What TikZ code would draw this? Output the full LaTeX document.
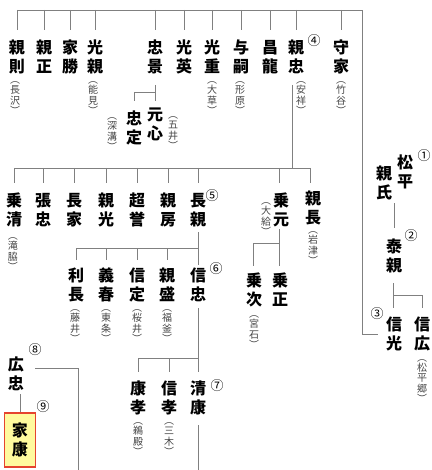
\documentclass[tikz,border=0pt]{standalone}
\usepackage{fontspec}
\newfontfamily\jp{Noto Sans CJK JP}
\definecolor{linegray}{HTML}{808080}
\definecolor{subgray}{HTML}{454545}
\definecolor{boxfill}{HTML}{FFFA9E}
\definecolor{boxline}{HTML}{E5442E}
\tikzset{
  nm/.style={font=\jp\bfseries\fontsize{16}{19}\selectfont, align=center, inner sep=0pt},
  sb/.style={font=\jp\fontsize{10}{10.2}\selectfont, align=center, inner sep=0pt, text=subgray},
  num/.style={font=\jp\fontsize{13}{13}\selectfont, inner sep=0pt},
  ln/.style={draw=linegray, line width=0.9pt},
}
\begin{document}
\begin{tikzpicture}[x=1pt,y=-1pt]
\useasboundingbox (0,0) rectangle (431,470);
% ---------- row 1 ----------
\node[nm] (a1) at (17,57) {親\\則};
\node[nm] (a2) at (44,57) {親\\正};
\node[nm] (a3) at (70,57) {家\\勝};
\node[nm] (a4) at (95,57) {光\\親};
\node[nm] (a5) at (155,57) {忠\\景};
\node[nm] (a6) at (184,57) {光\\英};
\node[nm] (a7) at (212,57) {光\\重};
\node[nm] (a8) at (241,57) {与\\嗣};
\node[nm] (a9) at (270,57) {昌\\龍};
\node[nm] (a10) at (296,57) {親\\忠};
\node[nm] (a11) at (341,57) {守\\家};
\node[sb] (sa1) at (15,98) {︵\\長\\沢\\︶};
\node[sb] (sa4) at (93,98) {︵\\能\\見\\︶};
\node[sb] (sa7) at (212,98) {︵\\大\\草\\︶};
\node[sb] (sa8) at (240,98) {︵\\形\\原\\︶};
\node[sb] (sa10) at (301,98) {︵\\安\\祥\\︶};
\node[sb] (sa11) at (341,98) {︵\\竹\\谷\\︶};
\node[num] (c4) at (314,41) {④};
% sons of 忠景
\node[nm] (b1) at (134,128) {忠\\定};
\node[nm] (b2) at (155,124) {元\\心};
\node[sb] (sb1) at (112,134) {︵\\深\\溝\\︶};
\node[sb] (sb2) at (173,133) {︵\\五\\井\\︶};
% ---------- row 2 ----------
\node[nm] (d1) at (14,210) {乗\\清};
\node[nm] (d2) at (43,210) {張\\忠};
\node[nm] (d3) at (74,210) {長\\家};
\node[nm] (d4) at (106,210) {親\\光};
\node[nm] (d5) at (137,210) {超\\誉};
\node[nm] (d6) at (168,210) {親\\房};
\node[nm] (d7) at (198,210) {長\\親};
\node[nm] (d8) at (281,210) {乗\\元};
\node[nm] (d9) at (313,208) {親\\長};
\node[sb] (sd1) at (13,254) {︵\\滝\\脇\\︶};
\node[sb] (sd8) at (266,219) {︵\\大\\給\\︶};
\node[sb] (sd9) at (313,248) {︵\\岩\\津\\︶};
\node[num] (c5) at (212,196) {⑤};
% sons of 乗元
\node[nm] (e1) at (254,290) {乗\\次};
\node[nm] (e2) at (280,290) {乗\\正};
\node[sb] (se1) at (254,332) {︵\\宮\\石\\︶};
% ---------- row 3 ----------
\node[nm] (f1) at (76,285) {利\\長};
\node[nm] (f2) at (106,285) {義\\春};
\node[nm] (f3) at (137,285) {信\\定};
\node[nm] (f4) at (167,285) {親\\盛};
\node[nm] (f5) at (198,285) {信\\忠};
\node[sb] (sf1) at (75,326) {︵\\藤\\井\\︶};
\node[sb] (sf2) at (106,326) {︵\\東\\条\\︶};
\node[sb] (sf3) at (137,326) {︵\\桜\\井\\︶};
\node[sb] (sf4) at (167,326) {︵\\福\\釜\\︶};
\node[num] (c6) at (216,269) {⑥};
% ---------- row 4 ----------
\node[nm] (g1) at (138,398) {康\\孝};
\node[nm] (g2) at (169,398) {信\\孝};
\node[nm] (g3) at (198,398) {清\\康};
\node[sb] (sg1) at (138,439) {︵\\鵜\\殿\\︶};
\node[sb] (sg2) at (169,439) {︵\\三\\木\\︶};
\node[num] (c7) at (217,386) {⑦};
% 広忠, 家康
\node[nm] (h1) at (16,374) {広\\忠};
\node[num] (c8) at (35,350) {⑧};
\node[nm, draw=boxline, line width=1.3pt, fill=boxfill, minimum width=31pt, minimum height=54pt] (h2) at (20,440) {家\\康};
\node[num] (c9) at (43,407) {⑨};
% ---------- right column ----------
\node[nm] (r1a) at (405,172) {松\\平};
\node[nm] (r1b) at (384,183) {親\\氏};
\node[num] (c1) at (424,156) {①};
\node[nm] (r2) at (394,256) {泰\\親};
\node[num] (c2) at (411,236) {②};
\node[nm] (r3) at (394,334) {信\\光};
\node[num] (c3) at (377,314) {③};
\node[nm] (r4) at (422,334) {信\\広};
\node[sb] (sr4) at (422,381) {︵\\松\\平\\郷\\︶};
% ---------- coordinates ----------
\coordinate (top) at (0,10);
\coordinate (topdrop) at (0,30);
\coordinate (topR) at (362,10);
\coordinate (rowB) at (0,168);
\coordinate (rowBdrop) at (0,183);
\coordinate (rowC) at (0,248);
\coordinate (rowCdrop) at (0,260);
\coordinate (rowD) at (0,358);
\coordinate (rowDdrop) at (0,372);
\coordinate (rowZ) at (0,92);
\coordinate (rowZdrop) at (0,101);
\coordinate (bottom) at (0,470);
\coordinate (jR) at (378,334);
% ---------- connectors ----------
% top row bar and drops
\draw[ln] (a1.north |- top) -- (topR) -- (topR |- jR) -- (jR);
\foreach \n in {a1,a2,a3,a4,a5,a6,a7,a8,a9,a10,a11}
  \draw[ln] (\n.north |- top) -- (\n.north |- topdrop);
% 忠景 -> 忠定, 元心
\draw[ln] (155,85) -- (155,101);
\draw[ln] (b1.north |- rowZ) -- (155,92);
\draw[ln] (b1.north |- rowZ) -- (b1.north |- rowZdrop);
% 親忠 -> row 2
\draw[ln] (292,85) -- (292,168);
\draw[ln] (d1.north |- rowB) -- (310,168);
\foreach \n in {d1,d2,d3,d4,d5,d6,d7}
  \draw[ln] (\n.north |- rowB) -- (\n.north |- rowBdrop);
\draw[ln] (279,168) -- (279,183);
\draw[ln] (310,168) -- (310,183);
% 長親 -> row 3
\draw[ln] (198,232) -- (198,265);
\draw[ln] (f1.north |- rowC) -- (198,248);
\foreach \n in {f1,f2,f3,f4}
  \draw[ln] (\n.north |- rowC) -- (\n.north |- rowCdrop);
% 乗元 -> 乗次, 乗正
\draw[ln] (279,229) -- (279,266);
\draw[ln] (253,243) -- (279,243);
\draw[ln] (253,243) -- (253,266);
% 信忠 -> row 4
\draw[ln] (198,308) -- (198,372);
\draw[ln] (g1.north |- rowD) -- (198,358);
\foreach \n in {g1,g2}
  \draw[ln] (\n.north |- rowD) -- (\n.north |- rowDdrop);
% 清康 downwards
\draw[ln] (198,425) -- (g3.south |- bottom);
% 広忠 -> right and down
\draw[ln] (35,368) -- (78,368) -- (78,470);
% 広忠 -> 家康
\draw[ln] (20,394) -- (h2.north);
% 親氏 -> 泰親
\draw[ln] (394,203) -- (394,228);
% 泰親 -> 信光, 信広
\draw[ln] (393,283) -- (393,308);
\draw[ln] (393,295) -- (422,295) -- (422,308);
\end{tikzpicture}
\end{document}
